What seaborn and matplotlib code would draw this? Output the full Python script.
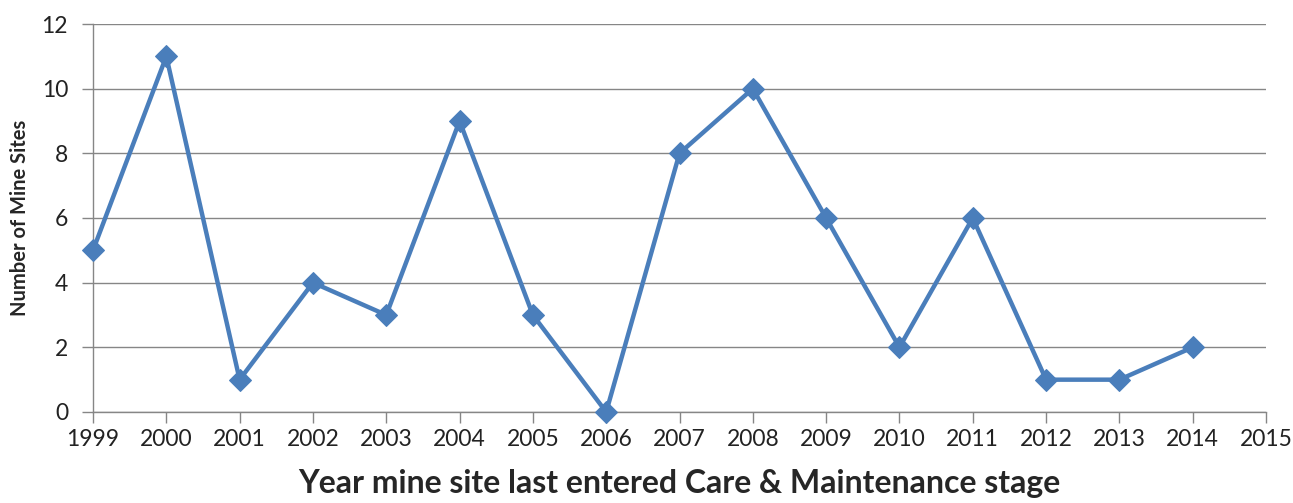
import matplotlib
matplotlib.use("Agg")
import matplotlib.pyplot as plt
import seaborn as sns
import pandas as pd

years = [1999, 2000, 2001, 2002, 2003, 2004, 2005, 2006, 2007, 2008, 2009, 2010, 2011, 2012, 2013, 2014]
sites = [5, 11, 1, 4, 3, 9, 3, 0, 8, 10, 6, 2, 6, 1, 1, 2]
xticks = list(range(1999, 2016))
yticks = [0, 2, 4, 6, 8, 10, 12]

sns.set_style("white")
plt.rcParams['font.family'] = ['Lato', 'DejaVu Sans']

fig = plt.figure(figsize=(12.93, 5.03), dpi=100)
ax = fig.add_axes([93/1293, 91/503, (1266-93)/1293, (412-24)/503])

df = pd.DataFrame({"year": years, "sites": sites})
sns.lineplot(data=df, x="year", y="sites", ax=ax, color="#4a7ebb", linewidth=3.2,
             marker="D", markersize=11, markeredgecolor="#4a7ebb", zorder=3, clip_on=False)

ax.set_xlim(1999, 2015)
ax.set_ylim(0, 12)
ax.set_xticks(xticks)
ax.set_xticklabels([str(t) for t in xticks], fontsize=16.5, color="#222222")
ax.set_yticks(yticks)
ax.set_yticklabels([str(t) for t in yticks], fontsize=16.5, color="#222222")
ax.grid(axis="y", color="#868686", linewidth=1)
ax.set_axisbelow(True)
for s in ["top", "right"]:
    ax.spines[s].set_visible(False)
for s in ["left", "bottom"]:
    ax.spines[s].set_color("#868686")
    ax.spines[s].set_linewidth(1)
ax.tick_params(axis="both", which="both", direction="out", length=8, width=1, color="#868686",
               bottom=True, left=True)
ax.tick_params(axis="x", pad=4)
ax.tick_params(axis="y", pad=10)
ax.set_xlabel("Year mine site last entered Care & Maintenance stage", fontsize=23, fontweight="bold", labelpad=14)
ax.set_ylabel("Number of Mine Sites", fontsize=14.5, fontweight="bold", labelpad=8)

fig.savefig("out.png", dpi=100)
